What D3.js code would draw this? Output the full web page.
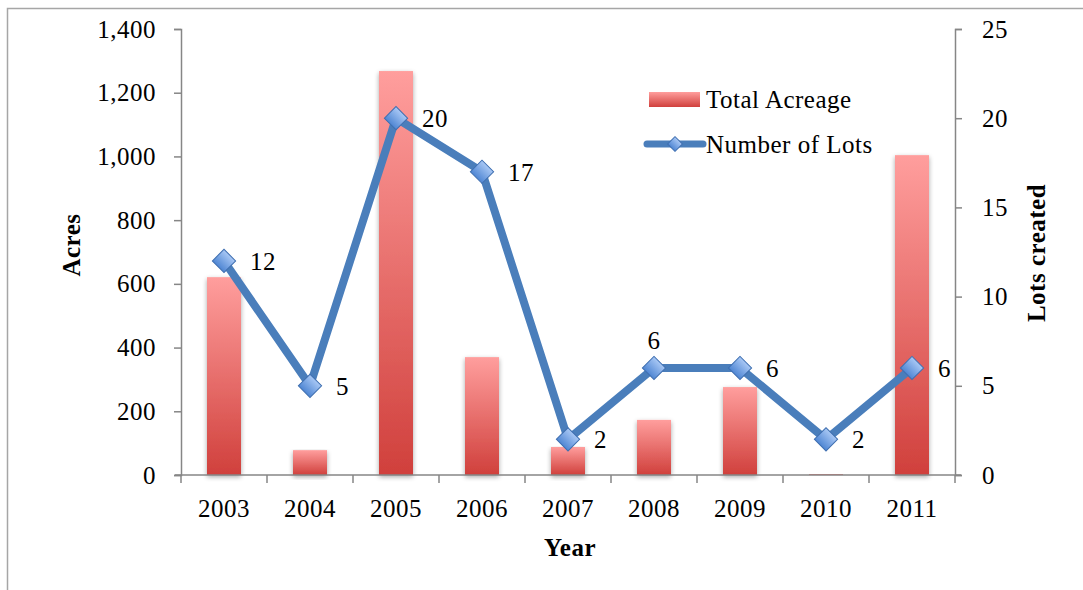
<!DOCTYPE html>
<html lang="en">

<head>
    <meta charset="UTF-8">
    <title>Acreage and Lots</title>
    <style>
    body { margin: 0; background: #fff; }
    text { font-family: "Liberation Serif", "DejaVu Serif", serif; fill: #000; font-size: 25px; letter-spacing: 0.5px; }
    .domain, .tick line { stroke: #868686; stroke-width: 1.5px; }
    </style>
</head>

<body>
    <svg id="main" width="1083" height="590"></svg>

    <script src="https://cdn.jsdelivr.net/npm/d3@7/dist/d3.min.js"></script>
    <script>
    var years = ["2003", "2004", "2005", "2006", "2007", "2008", "2009", "2010", "2011"];
    var acreage = [621, 78, 1268, 370, 88, 173, 276, 3, 1004];
    var lots = [12, 5, 20, 17, 2, 6, 6, 2, 6];
    var labelSide = ["right", "right", "right", "right", "right", "above", "right", "right", "right"];
    var acreTicks = [0, 200, 400, 600, 800, 1000, 1200, 1400];
    var lotTicks = [0, 5, 10, 15, 20, 25];

    var svg = d3.select("#main");
    var plotLeft = 181, plotRight = 955, plotTop = 29, plotBottom = 475;

    // outer frame (top and left edges only visible)
    svg.append("path")
        .attr("d", "M7.5 590 L7.5 8.5 L1083 8.5")
        .attr("fill", "none")
        .attr("stroke", "#a6a6a6")
        .attr("stroke-width", 1.5);

    var defs = svg.append("defs");
    var bg = defs.append("linearGradient").attr("id", "barGrad")
        .attr("x1", 0).attr("y1", 0).attr("x2", 0).attr("y2", 1);
    bg.append("stop").attr("offset", "0%").attr("stop-color", "#ff9e9d");
    bg.append("stop").attr("offset", "100%").attr("stop-color", "#d0403c");

    var mg = defs.append("linearGradient").attr("id", "mkGrad")
        .attr("x1", 0).attr("y1", 0).attr("x2", 0).attr("y2", 1);
    mg.append("stop").attr("offset", "0%").attr("stop-color", "#a9c8f5");
    mg.append("stop").attr("offset", "100%").attr("stop-color", "#4f86d3");

    var shadow = defs.append("filter").attr("id", "shadow")
        .attr("x", "-30%").attr("y", "-10%").attr("width", "160%").attr("height", "130%");
    shadow.append("feGaussianBlur").attr("in", "SourceAlpha").attr("stdDeviation", 2.5);
    shadow.append("feOffset").attr("dy", 2).attr("result", "b");
    shadow.append("feComponentTransfer").append("feFuncA").attr("type", "linear").attr("slope", 0.35);
    var merge = shadow.append("feMerge");
    merge.append("feMergeNode");
    merge.append("feMergeNode").attr("in", "SourceGraphic");

    var x = d3.scaleBand().domain(years).range([plotLeft, plotRight]).paddingInner(0).paddingOuter(0);
    var yL = d3.scaleLinear().domain([0, 1400]).range([plotBottom, plotTop]);
    var yR = d3.scaleLinear().domain([0, 25]).range([plotBottom, plotTop]);

    var fmt = d3.format(",");

    // bars
    var barW = 34;
    svg.append("g").selectAll("rect")
        .data(years)
        .join("rect")
        .attr("x", function(d) { return x(d) + x.bandwidth() / 2 - barW / 2; })
        .attr("y", function(d, i) { return yL(acreage[i]); })
        .attr("width", barW)
        .attr("height", function(d, i) { return plotBottom - yL(acreage[i]); })
        .attr("fill", "url(#barGrad)")
        .attr("filter", "url(#shadow)");

    // axes
    svg.append("g").attr("transform", "translate(" + plotLeft + ",0)")
        .call(d3.axisLeft(yL).tickValues(acreTicks).tickFormat(fmt).tickSizeOuter(0).tickSize(7).tickPadding(18));

    svg.append("g").attr("transform", "translate(" + plotRight + ",0)")
        .call(d3.axisRight(yR).tickValues(lotTicks).tickSizeOuter(0).tickSize(7).tickPadding(20));

    var xa = svg.append("g").attr("transform", "translate(0," + plotBottom + ")")
        .call(d3.axisBottom(x).tickSize(0).tickPadding(24));
    xa.select(".domain").attr("d", "M" + (plotLeft - 6) + ",0H" + (plotRight + 6));
    // category boundary ticks
    xa.append("g").selectAll("line")
        .data(d3.range(years.length + 1))
        .join("line")
        .attr("x1", function(i) { return plotLeft + i * x.bandwidth(); })
        .attr("x2", function(i) { return plotLeft + i * x.bandwidth(); })
        .attr("y1", 0).attr("y2", 8)
        .attr("stroke", "#868686").attr("stroke-width", 1.5);

    // d3 axes set their own font on the group; clear it so the css applies
    svg.selectAll("g").attr("font-family", null).attr("font-size", null);

    // line series
    var cx = function(i) { return x(years[i]) + x.bandwidth() / 2; };
    var line = d3.line()
        .x(function(d, i) { return cx(i); })
        .y(function(d) { return yR(d); });

    svg.append("path")
        .datum(lots)
        .attr("d", line)
        .attr("fill", "none")
        .attr("stroke", "#4a7ebb")
        .attr("stroke-width", 8)
        .attr("stroke-linejoin", "round");

    var diamond = d3.symbol().type(d3.symbolSquare).size(270);
    svg.append("g").selectAll("path")
        .data(lots)
        .join("path")
        .attr("d", diamond)
        .attr("transform", function(d, i) { return "translate(" + cx(i) + "," + yR(d) + ") rotate(45)"; })
        .attr("fill", "url(#mkGrad)")
        .attr("stroke", "#3f6fb0")
        .attr("stroke-width", 1);

    // data labels
    svg.append("g").selectAll("text")
        .data(lots)
        .join("text")
        .attr("x", function(d, i) { return labelSide[i] == "above" ? cx(i) : cx(i) + 26; })
        .attr("y", function(d, i) { return labelSide[i] == "above" ? yR(d) - 19 : yR(d) + 9; })
        .attr("text-anchor", function(d, i) { return labelSide[i] == "above" ? "middle" : "start"; })
        .text(function(d) { return d; });

    // axis titles
    svg.append("text")
        .attr("transform", "translate(80,245) rotate(-90)")
        .attr("text-anchor", "middle")
        .style("font-weight", "bold")
        .text("Acres");
    svg.append("text")
        .attr("transform", "translate(1045,253) rotate(-90)")
        .attr("text-anchor", "middle")
        .style("font-weight", "bold")
        .text("Lots created");
    svg.append("text")
        .attr("x", 570).attr("y", 556)
        .attr("text-anchor", "middle")
        .style("font-weight", "bold")
        .text("Year");

    // legend
    var lg = svg.append("g");
    lg.append("rect").attr("x", 649).attr("y", 92).attr("width", 51).attr("height", 15)
        .attr("fill", "url(#barGrad)");
    lg.append("text").attr("x", 706).attr("y", 108).text("Total Acreage");
    lg.append("line").attr("x1", 647).attr("x2", 703).attr("y1", 144).attr("y2", 144)
        .attr("stroke", "#4a7ebb").attr("stroke-width", 7).attr("stroke-linecap", "round");
    lg.append("path").attr("d", d3.symbol().type(d3.symbolSquare).size(110))
        .attr("transform", "translate(675,144) rotate(45)")
        .attr("fill", "url(#mkGrad)").attr("stroke", "#3f6fb0");
    lg.append("text").attr("x", 706).attr("y", 153).text("Number of Lots");
    </script>

</body>

</html>
